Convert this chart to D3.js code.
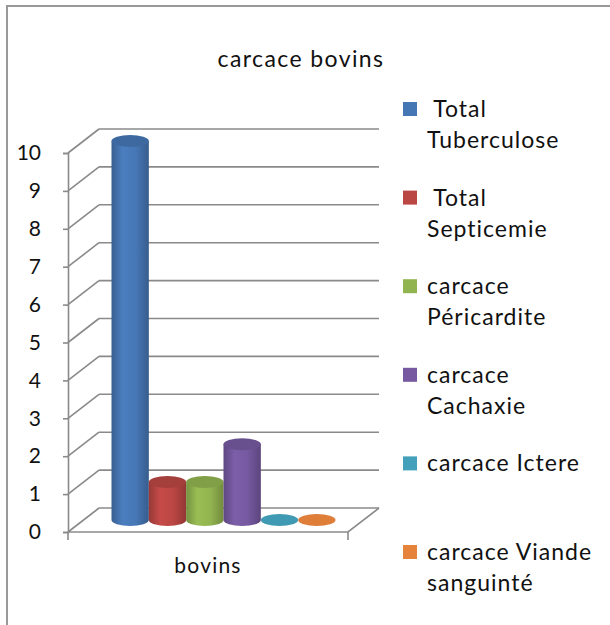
<!DOCTYPE html>
<html>
<head>
<meta charset="utf-8">
<script src="https://cdn.jsdelivr.net/npm/d3@7"></script>
<style>
  body { margin: 0; background: #fff; }
  text { font-family: Lato, "Liberation Sans", sans-serif; fill: #111; }
</style>
</head>
<body>
<div id="chart"></div>
<script>
// données du graphique
var categories = ["bovins"];
var seriesNames = [" Total Tuberculose", " Total Septicemie", "carcace Péricardite",
                   "carcace Cachaxie", "carcace Ictere", "carcace Viande sanguinté"];
var legendLines = [[" Total", "Tuberculose"], [" Total", "Septicemie"], ["carcace", "Péricardite"],
                   ["carcace", "Cachaxie"], ["carcace Ictere"], ["carcace Viande", "sanguinté"]];
var values = [10, 1, 1, 2, 0, 0];
var yTicks = [0, 1, 2, 3, 4, 5, 6, 7, 8, 9, 10];
var colors = ["#4677b5", "#bb4744", "#92b450", "#7659a0", "#42a0bb", "#e6833a"];

var width = 610, height = 625;
var depth = { dx: 31, dy: -24 };   // décalage de la profondeur 3D
var plot = { left: 68, right: 348, bottom: 532, top: 153 };

var svg = d3.select("#chart").append("svg")
    .attr("width", width)
    .attr("height", height);

// cadre
svg.append("path")
    .attr("d", "M7,625 L7,6 L610,6")
    .style("fill", "none")
    .style("stroke", "#999")
    .style("stroke-width", 2);

// titre
svg.append("text")
    .attr("x", 301)
    .attr("y", 67)
    .attr("text-anchor", "middle")
    .style("font-size", "23px")
    .style("letter-spacing", "1.4px")
    .text("carcace bovins");

// échelles
var y = d3.scaleLinear().domain([0, 10]).range([plot.bottom, plot.top]);
var x0 = d3.scaleBand().domain(categories).range([plot.left, plot.right])
    .paddingInner(0).paddingOuter(0.125);
var x1 = d3.scaleBand().domain(seriesNames).range([0, x0.bandwidth()]).padding(0);

var grid = svg.append("g")
    .style("stroke", "#8a8a8a")
    .style("stroke-width", 1.6)
    .style("fill", "none");

// grille du mur du fond + diagonales du mur gauche
yTicks.forEach(function(t) {
    grid.append("line")
        .attr("x1", plot.left + depth.dx).attr("y1", y(t) + depth.dy)
        .attr("x2", plot.right + depth.dx).attr("y2", y(t) + depth.dy);
    grid.append("line")
        .attr("x1", plot.left).attr("y1", y(t))
        .attr("x2", plot.left + depth.dx).attr("y2", y(t) + depth.dy);
});
// sol
grid.append("path")
    .attr("d", "M" + plot.left + "," + y(0) + " L" + plot.right + "," + y(0) +
        " L" + (plot.right + depth.dx) + "," + (y(0) + depth.dy));
// graduations du bas
[plot.left, plot.right].forEach(function(px) {
    grid.append("line").attr("x1", px).attr("y1", y(0)).attr("x2", px).attr("y2", y(0) + 8);
});

// axe vertical
var yAxis = svg.append("g")
    .attr("transform", "translate(" + plot.left + ",0)")
    .call(d3.axisLeft(y).tickValues(yTicks).tickSize(5).tickPadding(22).tickFormat(d3.format("d")));
yAxis.selectAll("path, line").style("stroke", "#8a8a8a").style("stroke-width", 1.6);
yAxis.selectAll("text")
    .style("font-family", "Lato, 'Liberation Sans', sans-serif")
    .style("font-size", "21px")
    .style("fill", "#111");

// dégradés des cylindres
var defs = svg.append("defs");
colors.forEach(function(c, i) {
    var g = defs.append("linearGradient").attr("id", "cyl" + i)
        .attr("x1", "0%").attr("x2", "100%").attr("y1", "0%").attr("y2", "0%");
    var base = d3.color(c);
    g.append("stop").attr("offset", "0%").attr("stop-color", base.darker(0.6));
    g.append("stop").attr("offset", "30%").attr("stop-color", base.brighter(0.15));
    g.append("stop").attr("offset", "65%").attr("stop-color", base);
    g.append("stop").attr("offset", "100%").attr("stop-color", base.darker(0.7));
});

// cylindres, placés à mi-profondeur
var ry = 6;
var bars = svg.append("g")
    .attr("transform", "translate(" + (depth.dx / 2) + "," + (depth.dy / 2) + ")");

seriesNames.forEach(function(name, i) {
    var cx = x0(categories[0]) + x1(name) + x1.bandwidth() / 2;
    var rx = x1.bandwidth() / 2;
    var yt = y(values[i]), yb = y(0);
    var c = d3.color(colors[i]);
    if (values[i] > 0) {
        bars.append("path")
            .attr("d", "M" + (cx - rx) + "," + yt + " L" + (cx - rx) + "," + yb +
                " A" + rx + "," + ry + " 0 0 0 " + (cx + rx) + "," + yb +
                " L" + (cx + rx) + "," + yt + " Z")
            .style("fill", "url(#cyl" + i + ")");
    }
    bars.append("ellipse")
        .attr("cx", cx).attr("cy", yt)
        .attr("rx", rx).attr("ry", ry)
        .style("fill", values[i] > 0 ? c.darker(0.35) : c.darker(0.1));
});

// étiquette de catégorie
svg.append("text")
    .attr("x", x0(categories[0]) + x0.bandwidth() / 2)
    .attr("y", 573)
    .attr("text-anchor", "middle")
    .style("font-size", "21px")
    .style("letter-spacing", "1.2px")
    .text(categories[0]);

// légende
var legend = svg.append("g");
seriesNames.forEach(function(name, i) {
    var cy = 109 + i * 88.6;
    legend.append("rect")
        .attr("x", 403).attr("y", cy - 7)
        .attr("width", 14).attr("height", 14)
        .style("fill", colors[i]);
    var t = legend.append("text")
        .attr("x", 427).attr("y", cy + 8)
        .style("font-size", "23px")
        .style("letter-spacing", "1px")
        .attr("xml:space", "preserve");
    legendLines[i].forEach(function(line, j) {
        t.append("tspan").attr("x", 427).attr("dy", j === 0 ? 0 : 31).text(line);
    });
});
</script>
</body>
</html>
